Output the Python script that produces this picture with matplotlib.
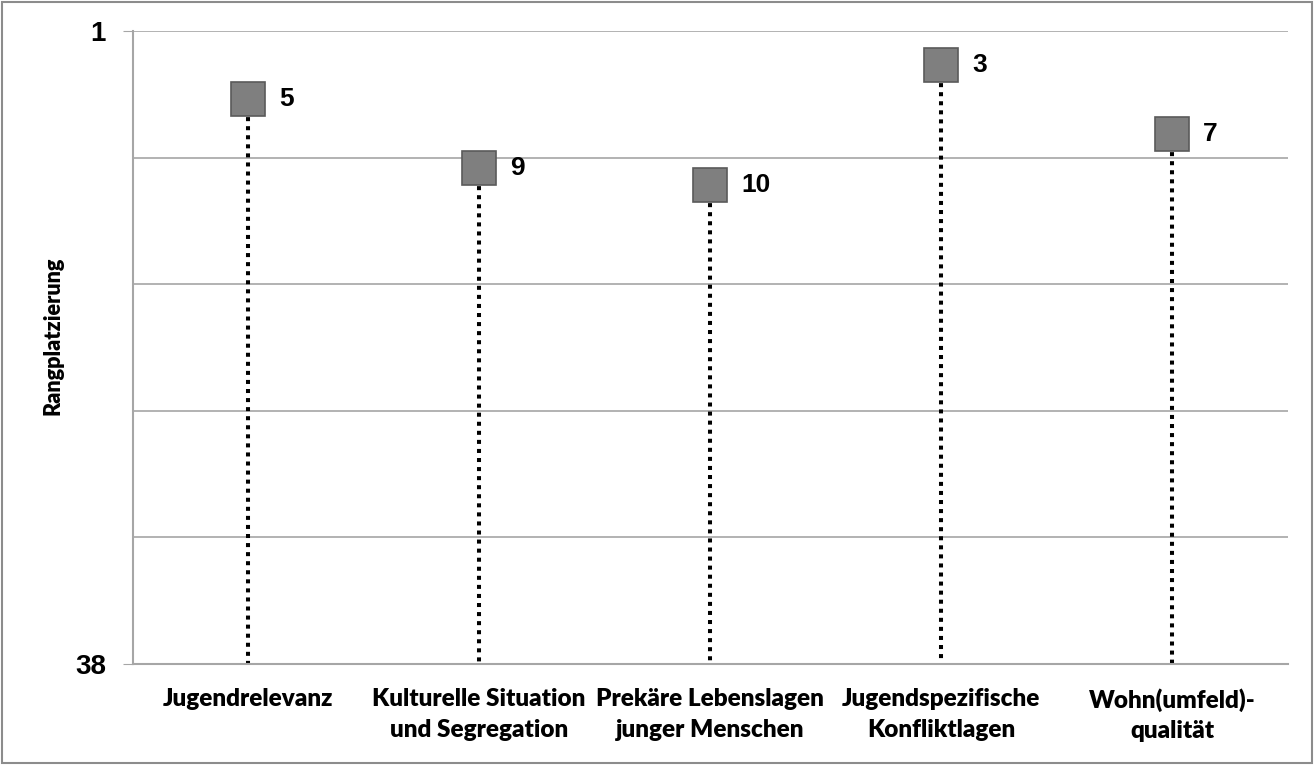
import numpy as np
import matplotlib
matplotlib.use("Agg")
import matplotlib.pyplot as plt
from matplotlib.patches import Rectangle

categories = ["Jugendrelevanz", "Kulturelle Situation\nund Segregation",
              "Prekäre Lebenslagen\njunger Menschen", "Jugendspezifische\nKonfliktlagen",
              "Wohn(umfeld)-\nqualität"]
ranks = [5, 9, 10, 3, 7]
y_min, y_max = 1, 38

W, H = 1314, 765
fig = plt.figure(figsize=(W/100, H/100), dpi=100)
L, R, T, B = 132.5, 1287.5, 31, 664
ax = fig.add_axes([L/W, 1-B/H, (R-L)/W, (B-T)/H])

x = np.arange(len(categories))
ax.set_xlim(-0.5, len(categories)-0.5)
ax.set_ylim(y_max, y_min)

grid_c = "#a6a6a6"
ax.set_yticks([y_min, y_max])
ax.set_yticklabels([str(y_min), str(y_max)], fontsize=20, fontweight="bold",
                   family="Liberation Sans")
ax.set_yticks(np.linspace(y_min, y_max, 6)[1:-1], minor=True)
ax.tick_params(axis="y", which="major", length=7, color=grid_c, pad=12)
ax.tick_params(axis="y", which="minor", length=0)
ax.grid(axis="y", which="both", color=grid_c, linewidth=1.2)
ax.set_axisbelow(True)

ax.set_xticks(x)
ax.set_xticklabels(categories, fontsize=17.5, fontweight="heavy", family="Lato",
                   linespacing=1.47)
ax.tick_params(axis="x", length=0, pad=17.5)

for s in ["top", "right"]:
    ax.spines[s].set_visible(False)
for s in ["left", "bottom"]:
    ax.spines[s].set_color(grid_c)
    ax.spines[s].set_linewidth(1.5)

ax.vlines(x, ranks, y_max, colors="black", linewidth=2.9,
          linestyles=(0, (1.0, 1.25)), zorder=2)
ax.plot(x, ranks, linestyle="none", marker="s", markersize=24,
        markerfacecolor="#7f7f7f", markeredgecolor="#5a5a5a", markeredgewidth=1.2, zorder=3)
for xi, r in zip(x, ranks):
    ax.annotate(str(r), (xi, r), xytext=(22.5, 0), textcoords="offset points",
                ha="left", va="center", fontsize=19, fontweight="bold",
                family="Liberation Sans")

fig.text(53/W, 1-336/H, "Rangplatzierung", rotation=90, ha="center", va="center",
         fontsize=15.6, fontweight="heavy", family="Lato")

fig.patches.append(Rectangle((2/W, 2/H), 1-4/W, 1-4/H, transform=fig.transFigure,
                             fill=False, edgecolor="#8c8c8c", linewidth=1.5))

fig.savefig("out.png", dpi=100)
